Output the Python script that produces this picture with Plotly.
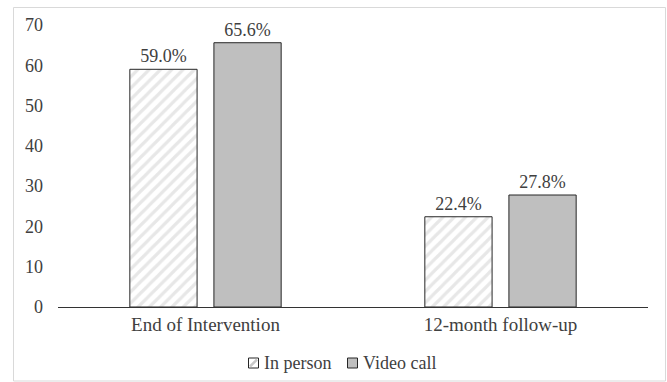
import plotly.graph_objects as go

categories = ["End of Intervention", "12-month follow-up"]
in_person = [59.0, 22.4]
video_call = [65.6, 27.8]
series_names = ["In person", "Video call"]
y_ticks = [0, 10, 20, 30, 40, 50, 60, 70]

FONT = "Liberation Serif"
TXT = "#404040"
GRAY = "#BFBFBF"
EDGE = "#262626"

W, H = 667, 382
L, R, T, B = 58, 19, 25, 75
pw = W - L - R
ph = H - T - B

def px_x(p):
    return (p - L) / pw

def px_y(p):
    return (H - B - p) / ph

fig = go.Figure()
fig.add_trace(go.Bar(
    name=series_names[0], x=categories, y=in_person,
    text=[f"{v:.1f}%" for v in in_person], textposition="outside",
    textfont=dict(family=FONT, size=18, color=TXT),
    marker=dict(color="white", line=dict(color=EDGE, width=1),
                pattern=dict(shape="/", fgcolor="#D0D0D0", bgcolor="white", size=8, solidity=0.4)),
    cliponaxis=False, showlegend=False,
))
fig.add_trace(go.Bar(
    name=series_names[1], x=categories, y=video_call,
    text=[f"{v:.1f}%" for v in video_call], textposition="outside",
    textfont=dict(family=FONT, size=18, color=TXT),
    marker=dict(color=GRAY, line=dict(color=EDGE, width=1)),
    cliponaxis=False, showlegend=False,
))

shapes = [dict(type="rect", xref="paper", yref="paper",
               x0=px_x(13.5), x1=px_x(665.5), y0=px_y(381), y1=px_y(7.5),
               line=dict(color="#D9D9D9", width=1), fillcolor="rgba(0,0,0,0)", layer="below")]
annotations = []

# manual legend (swatch + label)
legend_items = [(248.5, "white", series_names[0], 262), (347.5, GRAY, series_names[1], 360.5)]
for bx, fill, label, tx in legend_items:
    shapes.append(dict(type="rect", xref="paper", yref="paper",
                       x0=px_x(bx), x1=px_x(bx + 10), y0=px_y(368), y1=px_y(358),
                       line=dict(color=EDGE, width=1), fillcolor=fill, layer="above"))
    if fill == "white":
        shapes.append(dict(type="line", xref="paper", yref="paper",
                           x0=px_x(bx + 1.5), x1=px_x(bx + 8.5), y0=px_y(366.5), y1=px_y(359.5),
                           line=dict(color="#C8C8C8", width=2.5), layer="above"))
    annotations.append(dict(xref="paper", yref="paper", x=px_x(tx), y=px_y(363),
                            xanchor="left", yanchor="middle", showarrow=False, text=label,
                            font=dict(family=FONT, size=18, color=TXT)))

fig.update_layout(
    width=W, height=H,
    margin=dict(l=L, r=R, t=T, b=B, autoexpand=False),
    paper_bgcolor="white", plot_bgcolor="white",
    barmode="group", bargap=0.43, bargroupgap=0.2,
    font=dict(family=FONT, size=18, color=TXT),
    showlegend=False,
    xaxis=dict(showline=True, linecolor="#333333", linewidth=1, ticks="", showgrid=False,
               automargin=False, tickfont=dict(family=FONT, size=19, color=TXT)),
    yaxis=dict(range=[0, 70], tickvals=y_ticks, showgrid=False, showline=False, zeroline=False,
               ticks="", ticklabelstandoff=14, automargin=False,
               tickfont=dict(family=FONT, size=18, color=TXT)),
    shapes=shapes,
    annotations=annotations,
)

fig.write_html("out.html")
